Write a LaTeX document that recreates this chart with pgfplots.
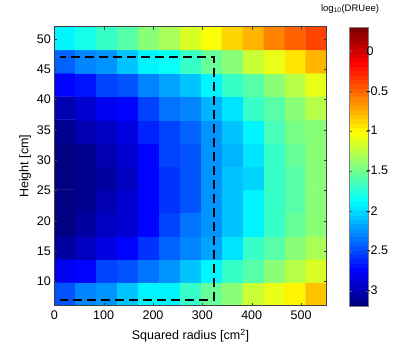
\documentclass[border=0pt]{standalone}
\usepackage{pgfplots}
\pgfplotsset{compat=1.18}
\usepackage{fontspec}
\setmainfont{Liberation Sans}
\pgfplotsset{colormap={jetbase}{rgb255(0cm)=(0,0,128); rgb255(1cm)=(0,0,255); rgb255(3cm)=(0,255,255); rgb255(5cm)=(255,255,0); rgb255(7cm)=(255,0,0); rgb255(8cm)=(128,0,0)}}
\pgfplotsset{colormap={jetd}{samples of colormap=(64 of jetbase)}}
\begin{document}
\begin{tikzpicture}
\begin{axis}[
  at={(0,0)}, anchor=south west,
  scale only axis,
  width=272.4pt, height=279pt,
  xmin=0, xmax=552, ymin=6, ymax=52,
  xtick={0,100,...,500}, ytick={10,15,...,50},
  /pgf/number format/assume math mode=true,
  tick label style={font=\fontsize{12.5}{14}\selectfont},
  xticklabel style={yshift=-1.5pt},
  label style={font=\fontsize{12.5}{14}\selectfont},
  xlabel={Squared radius [cm\textsuperscript{2}]},
  ylabel={Height [cm]},
  xlabel style={yshift=-3pt},
  ylabel style={yshift=-1pt},
  tick align=inside,
  major tick length=3pt,
  axis line style={black!75, line width=0.6pt},
  tick style={black!75},
  axis on top,
  colormap name=jetd,
  colormap access=piecewise constant,
  point meta min=-3.2, point meta max=0.3,
  colorbar,
  colorbar style={
    at={(parent axis.north east)}, anchor=north west, xshift=14.3pt,
    width=19pt, height=280pt,
    ytick={-3,-2.5,-2,-1.5,-1,-0.5,0},
    yticklabels={-3,-2.5,-2,-1.5,-1,-0.5,0},
    yticklabel style={font=\fontsize{12.5}{14}\selectfont, xshift=-5.5pt},
    tick align=inside, major tick length=2.5pt,
    axis line style={black!50},
    tick style={black!60},
    title={log\textsubscript{10}(DRUee)},
    title style={font=\fontsize{9.5}{11}\selectfont, yshift=4pt, xshift=-9pt},
  },
]
\addplot[matrix plot*, mesh/cols=13, point meta=explicit] table[meta=c] {
x y c
21.2 7.92 -2.45
63.7 7.92 -2.32
106.2 7.92 -2.23
148.6 7.92 -2.10
191.1 7.92 -1.93
233.5 7.92 -1.89
276.0 7.92 -1.67
318.5 7.92 -1.54
360.9 7.92 -1.41
403.4 7.92 -1.23
445.8 7.92 -1.10
488.3 7.92 -1.00
530.8 7.92 -0.84
21.2 11.75 -2.80
63.7 11.75 -2.72
106.2 11.75 -2.54
148.6 11.75 -2.45
191.1 11.75 -2.37
233.5 11.75 -2.23
276.0 11.75 -2.06
318.5 11.75 -1.89
360.9 11.75 -1.72
403.4 11.75 -1.58
445.8 11.75 -1.45
488.3 11.75 -1.28
530.8 11.75 -1.15
21.2 15.58 -3.07
63.7 15.58 -2.94
106.2 15.58 -2.85
148.6 15.58 -2.72
191.1 15.58 -2.59
233.5 15.58 -2.41
276.0 15.58 -2.32
318.5 15.58 -2.19
360.9 15.58 -1.97
403.4 15.58 -1.72
445.8 15.58 -1.58
488.3 15.58 -1.45
530.8 15.58 -1.32
21.2 19.42 -3.15
63.7 19.42 -3.07
106.2 19.42 -2.98
148.6 19.42 -2.90
191.1 19.42 -2.72
233.5 19.42 -2.50
276.0 19.42 -2.37
318.5 19.42 -2.23
360.9 19.42 -2.06
403.4 19.42 -1.89
445.8 19.42 -1.67
488.3 19.42 -1.54
530.8 19.42 -1.41
21.2 23.25 -3.15
63.7 23.25 -3.11
106.2 23.25 -3.03
148.6 23.25 -2.90
191.1 23.25 -2.76
233.5 23.25 -2.59
276.0 23.25 -2.45
318.5 23.25 -2.23
360.9 23.25 -2.06
403.4 23.25 -1.89
445.8 23.25 -1.72
488.3 23.25 -1.58
530.8 23.25 -1.45
21.2 27.08 -3.15
63.7 27.08 -3.11
106.2 27.08 -3.07
148.6 27.08 -2.94
191.1 27.08 -2.76
233.5 27.08 -2.59
276.0 27.08 -2.45
318.5 27.08 -2.23
360.9 27.08 -2.10
403.4 27.08 -2.02
445.8 27.08 -1.72
488.3 27.08 -1.58
530.8 27.08 -1.45
21.2 30.92 -3.15
63.7 30.92 -3.11
106.2 30.92 -3.03
148.6 30.92 -2.90
191.1 30.92 -2.72
233.5 30.92 -2.54
276.0 30.92 -2.45
318.5 30.92 -2.23
360.9 30.92 -2.15
403.4 30.92 -1.97
445.8 30.92 -1.72
488.3 30.92 -1.54
530.8 30.92 -1.45
21.2 34.75 -3.11
63.7 34.75 -3.03
106.2 34.75 -2.94
148.6 34.75 -2.85
191.1 34.75 -2.63
233.5 34.75 -2.54
276.0 34.75 -2.41
318.5 34.75 -2.23
360.9 34.75 -2.10
403.4 34.75 -1.93
445.8 34.75 -1.63
488.3 34.75 -1.50
530.8 34.75 -1.41
21.2 38.58 -3.03
63.7 38.58 -2.90
106.2 38.58 -2.80
148.6 38.58 -2.72
191.1 38.58 -2.50
233.5 38.58 -2.37
276.0 38.58 -2.28
318.5 38.58 -2.15
360.9 38.58 -1.97
403.4 38.58 -1.72
445.8 38.58 -1.58
488.3 38.58 -1.45
530.8 38.58 -1.28
21.2 42.42 -2.72
63.7 42.42 -2.67
106.2 42.42 -2.54
148.6 42.42 -2.45
191.1 42.42 -2.32
233.5 42.42 -2.19
276.0 42.42 -2.06
318.5 42.42 -1.89
360.9 42.42 -1.72
403.4 42.42 -1.58
445.8 42.42 -1.45
488.3 42.42 -1.28
530.8 42.42 -1.10
21.2 46.25 -2.41
63.7 46.25 -2.32
106.2 46.25 -2.23
148.6 46.25 -2.10
191.1 46.25 -1.93
233.5 46.25 -1.85
276.0 46.25 -1.67
318.5 46.25 -1.54
360.9 46.25 -1.41
403.4 46.25 -1.23
445.8 46.25 -1.10
488.3 46.25 -0.92
530.8 46.25 -0.79
21.2 50.08 -1.89
63.7 50.08 -1.80
106.2 50.08 -1.72
148.6 50.08 -1.58
191.1 50.08 -1.45
233.5 50.08 -1.32
276.0 50.08 -1.15
318.5 50.08 -1.06
360.9 50.08 -0.88
403.4 50.08 -0.79
445.8 50.08 -0.62
488.3 50.08 -0.49
530.8 50.08 -0.37
};
\addplot[black, line width=1.8pt, dash pattern=on 9pt off 5pt, dash phase=3pt] coordinates {(12,47) (324,47) (324,7) (12,7)};
\end{axis}
\pgfresetboundingbox
\path (-54.3pt,-40.3pt) rectangle (360.7pt,305.7pt);
\end{tikzpicture}
\end{document}
